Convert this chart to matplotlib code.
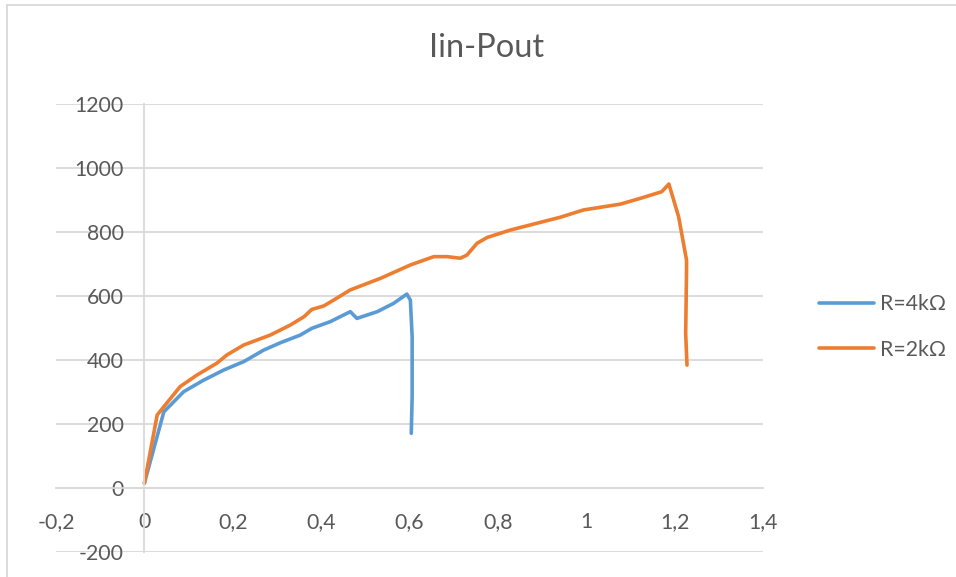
import matplotlib
matplotlib.use("Agg")
from matplotlib import pyplot as plt
from matplotlib.lines import Line2D

# Input current vs output power, two load resistors
iin_4k = [0.0, 0.044, 0.089, 0.134, 0.18, 0.225, 0.27, 0.308, 0.353, 0.379,
          0.421, 0.466, 0.481, 0.527, 0.564, 0.594, 0.602, 0.606, 0.606, 0.604]
pout_4k = [15, 238, 301, 337, 369, 395, 431, 454, 478, 499,
           520, 551, 530, 551, 577, 606, 587, 473, 285, 171]

iin_2k = [0.0, 0.029, 0.044, 0.081, 0.119, 0.164, 0.187, 0.225, 0.285, 0.33,
          0.361, 0.379, 0.406, 0.428, 0.466, 0.534, 0.602, 0.655, 0.685, 0.715,
          0.73, 0.753, 0.776, 0.828, 0.941, 0.994, 1.077, 1.122, 1.171, 1.187,
          1.209, 1.227, 1.227, 1.225, 1.228]
pout_2k = [15, 228, 254, 317, 353, 390, 416, 447, 478, 509,
           535, 558, 569, 587, 619, 655, 697, 723, 723, 718,
           728, 765, 783, 806, 846, 869, 887, 905, 926, 950,
           848, 712, 681, 483, 384]

x_ticks = [-0.2, 0, 0.2, 0.4, 0.6, 0.8, 1.0, 1.2, 1.4]
x_labels = ["-0,2", "0", "0,2", "0,4", "0,6", "0,8", "1", "1,2", "1,4"]
y_ticks = [-200, 0, 200, 400, 600, 800, 1000, 1200]
y_labels = ["-200", "0", "200", "400", "600", "800", "1000", "1200"]

blue = "#5B9BD5"
orange = "#ED7D31"
grid = "#D9D9D9"
text = "#595959"

plt.rcParams["font.family"] = ["Lato", "DejaVu Sans"]

W, H = 956, 577
fig = plt.figure(figsize=(W / 100, H / 100), dpi=100)
ax = fig.add_axes([56 / W, (H - 552) / H, (763 - 56) / W, (552 - 104) / H])

ax.plot(iin_4k, pout_4k, color=blue, lw=2.6, solid_joinstyle="round",
        solid_capstyle="round", label="R=4kΩ")
ax.plot(iin_2k, pout_2k, color=orange, lw=2.6, solid_joinstyle="round",
        solid_capstyle="round", label="R=2kΩ")

ax.set_xlim(-0.2, 1.4)
ax.set_ylim(-200, 1200)
ax.set_xticks(x_ticks)
ax.set_xticklabels(x_labels)
ax.set_yticks(y_ticks)
ax.set_yticklabels(y_labels)

# axes cross at the origin, horizontal gridlines only
for side in ["top", "right"]:
    ax.spines[side].set_visible(False)
for side in ["left", "bottom"]:
    ax.spines[side].set_position(("data", 0))
    ax.spines[side].set_color(grid)
    ax.spines[side].set_linewidth(1.3)
ax.yaxis.grid(True, color=grid, lw=1.3)
ax.set_axisbelow(True)
ax.tick_params(axis="both", length=0, labelsize=15.3, colors=text)
ax.tick_params(axis="x", pad=17)
ax.tick_params(axis="y", pad=15)

fig.text(487 / W, 1 - 48 / H, "Iin-Pout", fontsize=23.5, color=text,
         ha="center", va="center")

leg = ax.legend(loc="center left", bbox_to_anchor=(819 / W, 1 - 327 / H),
                bbox_transform=fig.transFigure, frameon=False, fontsize=15.3,
                handlelength=2.6, handletextpad=0.25, labelspacing=1.2,
                borderpad=0, borderaxespad=0)
for t in leg.get_texts():
    t.set_color(text)

# chart border, top and left edges
fig.add_artist(Line2D([7 / W, 7 / W], [0, 1 - 5 / H], transform=fig.transFigure,
                      color=grid, lw=1.3))
fig.add_artist(Line2D([7 / W, 1], [1 - 5 / H, 1 - 5 / H], transform=fig.transFigure,
                      color=grid, lw=1.3))

fig.savefig("out.png", dpi=100)
